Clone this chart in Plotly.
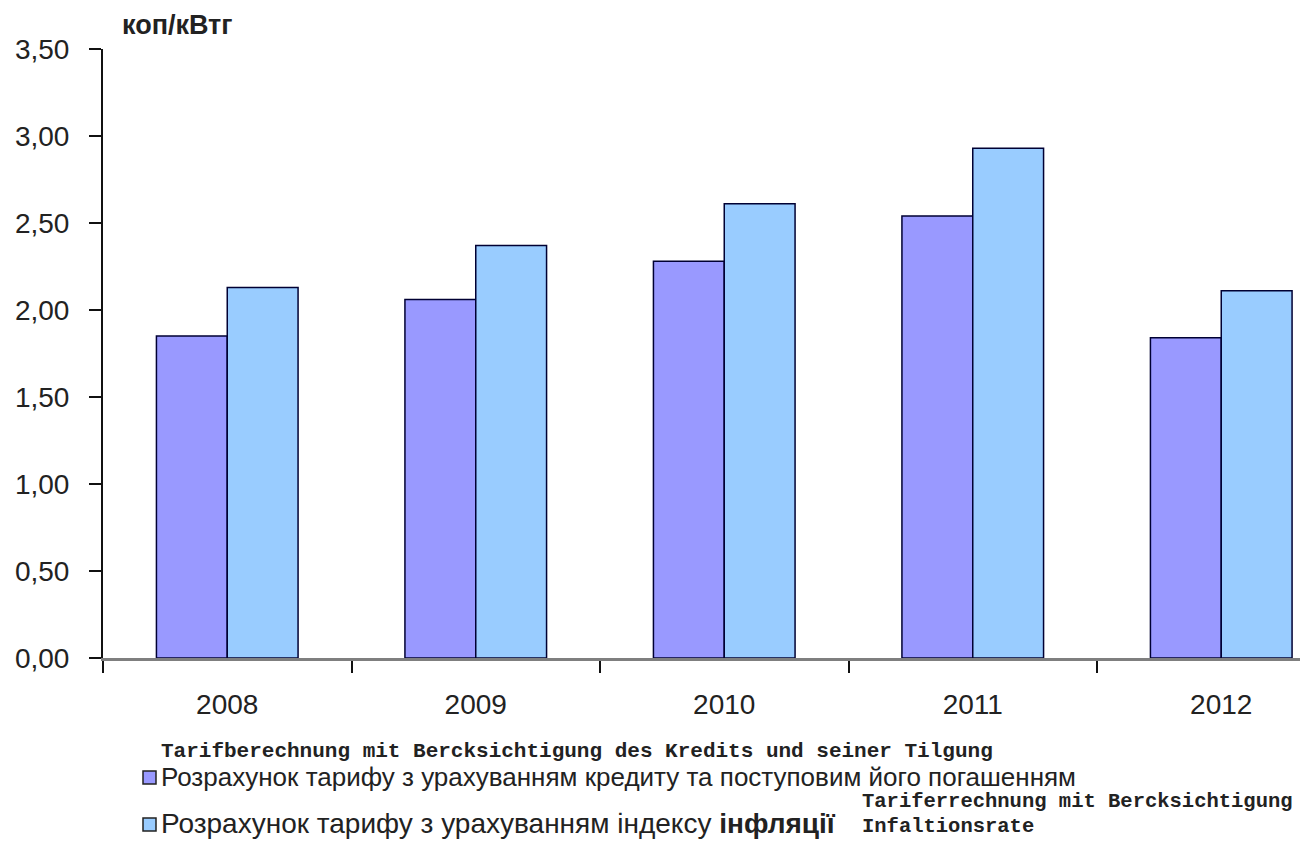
import plotly.graph_objects as go

years = ["2008", "2009", "2010", "2011", "2012"]
credit_tariff = [1.85, 2.06, 2.28, 2.54, 1.84]
inflation_tariff = [2.13, 2.37, 2.61, 2.93, 2.11]
y_ticks = [0, 0.5, 1.0, 1.5, 2.0, 2.5, 3.0, 3.5]

name_credit = "Розрахунок тарифу з урахуванням кредиту та поступовим його погашенням"
name_infl = "Розрахунок тарифу з урахуванням індексу <b>інфляції</b>"
de_line1 = "Tarifberechnung mit Bercksichtigung des Kredits und seiner Tilgung"
de_line2 = "Tariferrechnung mit Bercksichtigung"
de_line3 = "Infaltionsrate"
unit_label = "коп/кВтг"

C_PURPLE = "#9999FF"
C_BLUE = "#99CCFF"
C_EDGE = "#000033"

# page body has an 8px margin; work in reference pixel coords and shift
OFF = 8
W, H = 1308 - OFF, 845 - OFF
L = 103 - OFF
T = 49 - OFF
BOTTOM = 658 - OFF
R = 0
B = H - BOTTOM
PW = W - L - R
PH = H - T - B

def px(x):
    return (x - OFF - L) / PW

def py(y):
    return (BOTTOM - (y - OFF)) / PH

fig = go.Figure()
fig.add_trace(go.Bar(x=years, y=credit_tariff, name=name_credit,
                     marker=dict(color=C_PURPLE, line=dict(color=C_EDGE, width=1.5))))
fig.add_trace(go.Bar(x=years, y=inflation_tariff, name=name_infl,
                     marker=dict(color=C_BLUE, line=dict(color=C_EDGE, width=1.5))))

font_main = "Liberation Sans, Arial, sans-serif"
font_mono = "Liberation Mono, Courier New, monospace"

annotations = [
    dict(text="<b>" + unit_label + "</b>", x=px(120), y=py(25), xref="paper", yref="paper",
         xanchor="left", yanchor="middle", showarrow=False,
         font=dict(family=font_main, size=27, color="#222")),
    dict(text="<b>" + de_line1 + "</b>", x=px(159), y=py(751), xref="paper", yref="paper",
         xanchor="left", yanchor="middle", showarrow=False,
         font=dict(family=font_mono, size=21, color="#222")),
    dict(text=name_credit, x=px(159), y=py(777), xref="paper", yref="paper",
         xanchor="left", yanchor="middle", showarrow=False,
         font=dict(family=font_main, size=26, color="#222")),
    dict(text="<b>" + de_line2 + "</b>", x=px(860), y=py(801), xref="paper", yref="paper",
         xanchor="left", yanchor="middle", showarrow=False,
         font=dict(family=font_mono, size=20.5, color="#222")),
    dict(text=name_infl, x=px(159), y=py(824), xref="paper", yref="paper",
         xanchor="left", yanchor="middle", showarrow=False,
         font=dict(family=font_main, size=28, color="#222")),
    dict(text="<b>" + de_line3 + "</b>", x=px(860), y=py(826), xref="paper", yref="paper",
         xanchor="left", yanchor="middle", showarrow=False,
         font=dict(family=font_mono, size=20.5, color="#222")),
]

shapes = [
    dict(type="rect", xref="paper", yref="paper", x0=px(143), x1=px(156), y0=py(771), y1=py(784),
         fillcolor=C_PURPLE, line=dict(color="#222", width=1.5)),
    dict(type="rect", xref="paper", yref="paper", x0=px(143), x1=px(156), y0=py(818), y1=py(831),
         fillcolor=C_BLUE, line=dict(color="#222", width=1.5)),
]

fig.update_layout(
    width=W, height=H,
    margin=dict(l=L, r=R, t=T, b=B, pad=0),
    paper_bgcolor="white", plot_bgcolor="white",
    barmode="group", bargap=0.43, bargroupgap=0,
    showlegend=False,
    separators=", ",
    annotations=annotations,
    shapes=shapes,
    font=dict(family=font_main, color="#222"),
)
fig.update_xaxes(
    range=[-0.5, -0.5 + PW / 248.5],
    showline=True, linecolor="#7f7f7f", linewidth=3,
    ticks="outside", tickson="boundaries", ticklen=12, tickwidth=2, tickcolor="#111",
    tickfont=dict(family=font_main, size=28, color="#222"),
    ticklabelstandoff=19,
    showgrid=False, zeroline=False,
)
fig.update_yaxes(
    range=[0, 3.5], tickvals=y_ticks, tickformat=".2f",
    showline=True, linecolor="#111", linewidth=2,
    ticks="outside", ticklen=12, tickwidth=2, tickcolor="#111",
    tickfont=dict(family=font_main, size=28, color="#222"),
    ticklabelstandoff=14,
    showgrid=False, zeroline=False,
)

fig.write_html("out.html")
